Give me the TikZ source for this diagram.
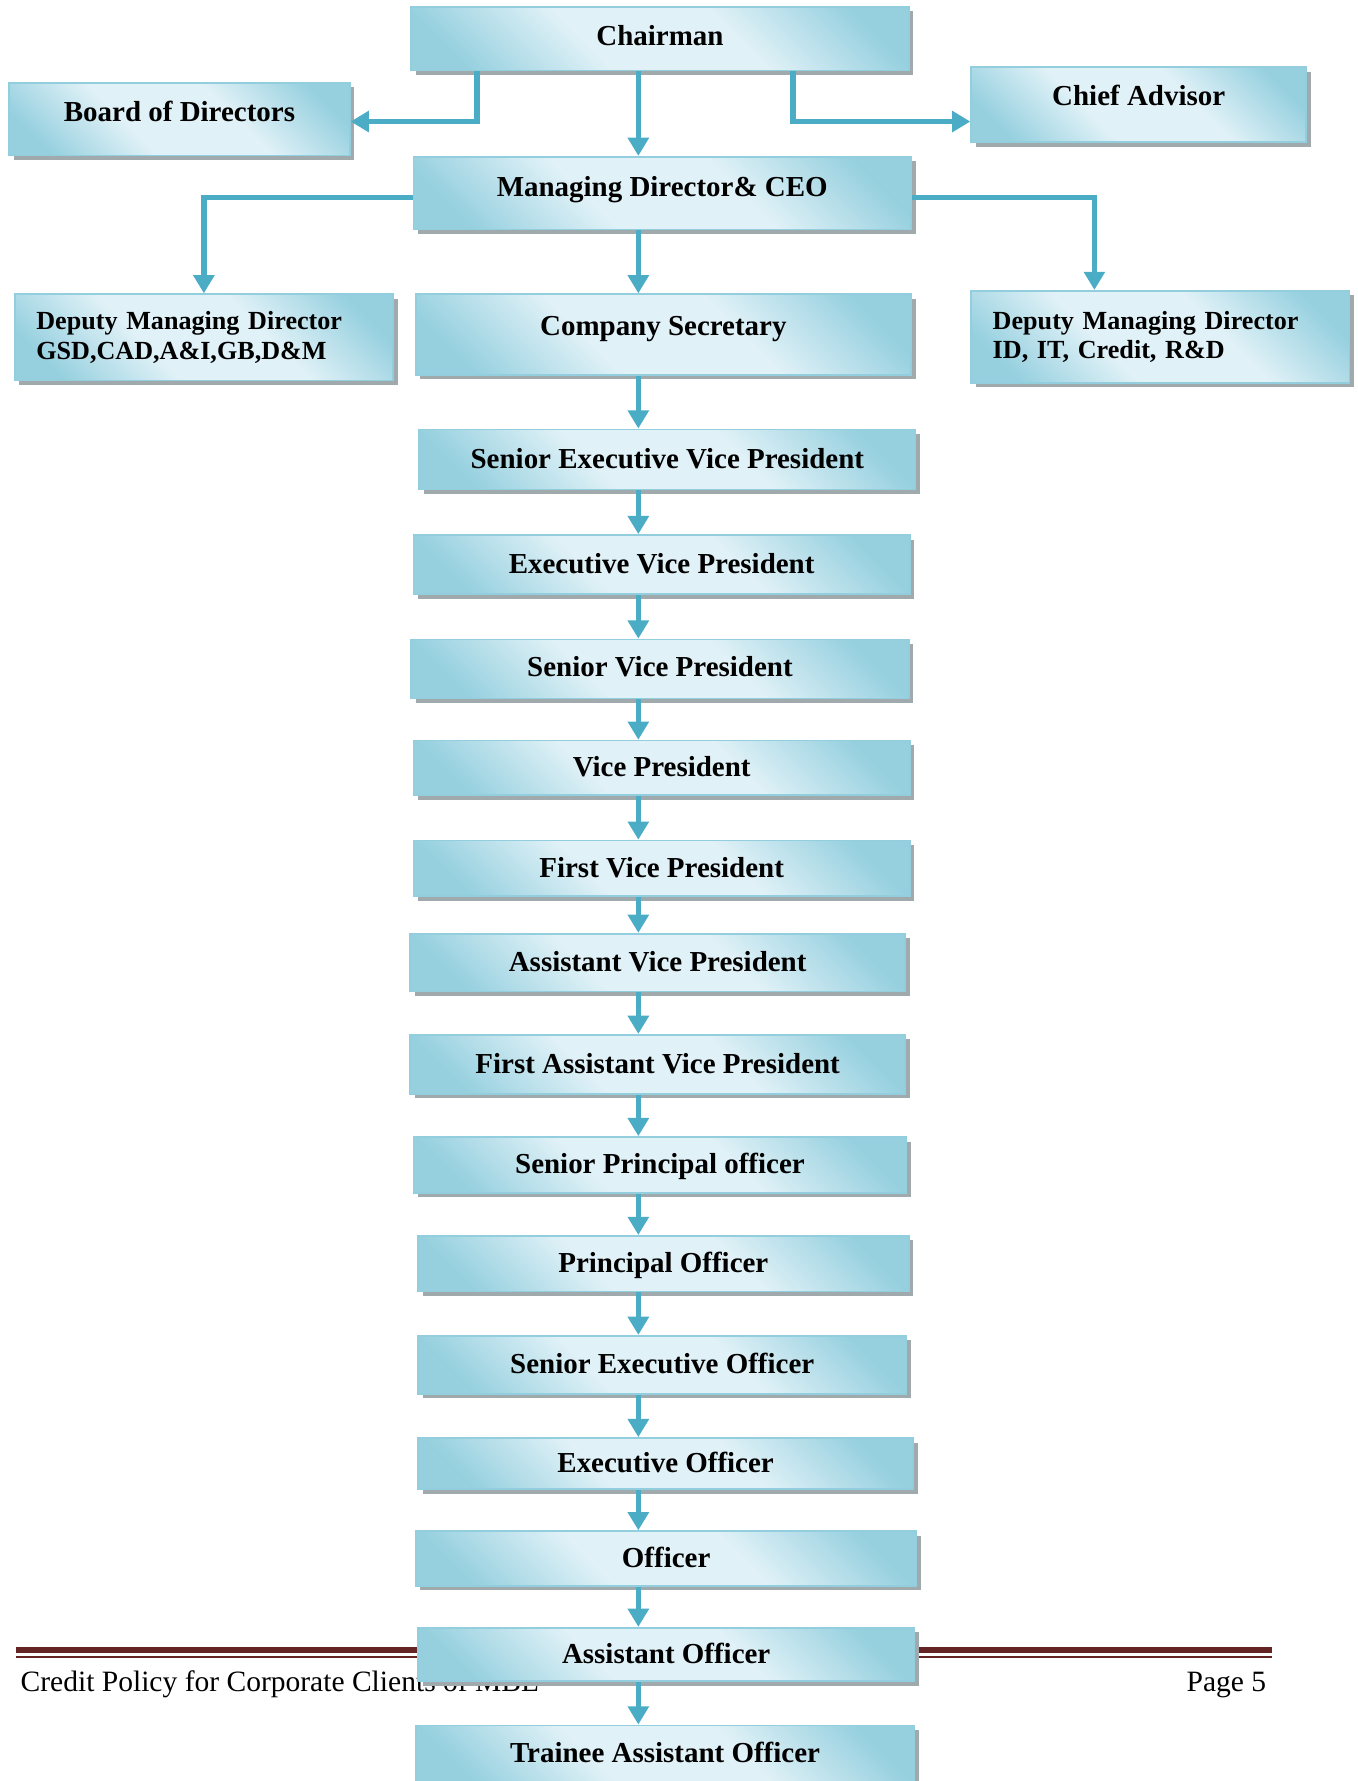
\documentclass[tikz,border=0pt]{standalone}
\usepackage{fontspec}
\setmainfont{Liberation Serif}
\usetikzlibrary{arrows.meta,shadows,calc}
\definecolor{boxdark}{RGB}{150,208,223}
\definecolor{boxlight}{RGB}{224,241,247}
\definecolor{boxline}{RGB}{146,206,222}
\definecolor{conncol}{RGB}{75,172,198}
\definecolor{shadowcol}{RGB}{160,170,172}
\definecolor{footred}{RGB}{99,36,35}
\pgfdeclareverticalshading{orgshade}{100bp}{color(0bp)=(boxdark); color(22bp)=(boxdark); color(40bp)=(boxlight); color(60bp)=(boxlight); color(78bp)=(boxdark); color(100bp)=(boxdark)}
\begin{document}
\begin{tikzpicture}[x=1pt,y=1pt,
  orgbase/.style={draw=boxline, line width=1.5pt,
    shading=orgshade, shading angle=-45,
    drop shadow={shadow xshift=4pt, shadow yshift=-4pt, fill=shadowcol, opacity=1},
    inner sep=0pt},
  orgbox/.style={orgbase, font=\fontsize{25.5}{30}\selectfont\bfseries,
    text height=16pt, text depth=0pt},
  dmdbox/.style={orgbase, font=\fontsize{23}{26}\selectfont\bfseries,
    text width=295pt, align=left, inner xsep=19pt, minimum width=333pt},
  conn/.style={draw=conncol, line width=5pt, -{Triangle[width=18pt,length=16pt]}},
  footline/.style={draw=footred}
]
\useasboundingbox (0,0) rectangle (1195,-1568);
\clip (0,0) rectangle (1195,-1568);
\coordinate (spine) at (562,0);

% footer
\coordinate (fl) at (14,-1452.5);
\coordinate (fr) at (1120,-1452.5);
\draw[footline, line width=5pt] (fl) -- (fr);
\draw[footline, line width=1.8pt] ([yshift=-6pt]fl) -- ([yshift=-6pt]fr);
\node[anchor=base west, font=\fontsize{26}{30}\selectfont, inner sep=0pt] (foottext) at (18,-1489) {Credit Policy for Corporate Clients of MBL};
\node[anchor=base east, font=\fontsize{26}{30}\selectfont, inner sep=0pt] (pagenum) at (1115,-1489) {Page 5};

% top boxes
\node[orgbox, minimum width=438pt, minimum height=56pt, text depth=4pt] (chair) at (581,-34) {Chairman};
\node[orgbox, minimum width=300pt, minimum height=64pt, text depth=12pt] (board) at (158,-105) {Board of Directors};
\node[orgbox, minimum width=295pt, minimum height=66pt, text depth=14pt] (chief) at (1002.5,-92) {Chief Advisor};
\node[orgbox, minimum width=438pt, minimum height=64pt, text depth=10pt] (md) at (583,-170) {Managing Director\& CEO};
\node[dmdbox, minimum height=76pt] (dmdl) at (179.5,-297) {Deputy Managing Director\\GSD,CAD,A\&I,GB,D\&M};
\node[orgbox, minimum width=436pt, minimum height=71pt, text depth=15pt] (cs) at (584,-294.5) {Company Secretary};
\node[dmdbox, minimum height=81pt] (dmdr) at (1021.5,-296.5) {Deputy Managing Director\\ID, IT, Credit, R\&D};

% chain
\node[orgbox, minimum width=437pt, minimum height=53pt] (sevp) at (587.5,-404.5) {Senior Executive Vice President};
\node[orgbox, minimum width=437pt, minimum height=52pt] (evp) at (582.5,-497) {Executive Vice President};
\node[orgbox, minimum width=438pt, minimum height=52pt, text depth=2pt] (svp) at (581,-589) {Senior Vice President};
\node[orgbox, minimum width=437pt, minimum height=48pt] (vp) at (582.5,-676) {Vice President};
\node[orgbox, minimum width=437pt, minimum height=49pt] (fvp) at (582.5,-764.5) {First Vice President};
\node[orgbox, minimum width=436pt, minimum height=51pt] (avp) at (579,-847.5) {Assistant Vice President};
\node[orgbox, minimum width=436pt, minimum height=52pt] (favp) at (579,-937) {First Assistant Vice President};
\node[orgbox, minimum width=434pt, minimum height=49pt] (spo) at (581,-1025.5) {Senior Principal officer};
\node[orgbox, minimum width=432pt, minimum height=49pt] (po) at (584,-1112.5) {Principal Officer};
\node[orgbox, minimum width=430pt, minimum height=51pt] (seo) at (583,-1201.5) {Senior Executive Officer};
\node[orgbox, minimum width=436pt, minimum height=45pt] (eo) at (586,-1288.5) {Executive Officer};
\node[orgbox, minimum width=441pt, minimum height=48pt] (off) at (586.5,-1372) {Officer};
\node[orgbox, minimum width=437pt, minimum height=47pt] (ao) at (586.5,-1456.5) {Assistant Officer};
\node[orgbox, minimum width=439pt, minimum height=50pt] (tao) at (585.5,-1544) {Trainee Assistant Officer};

% connectors
\draw[conn] ([xshift=-161pt]chair.south) |- ([yshift=-2pt]board.east);
\draw[conn] ([xshift=117pt]chair.south) |- ([yshift=-15pt]chief.west);
\draw[conn] (chair.south -| spine) -- (md.north -| spine);
\draw[conn] ([yshift=-4pt]md.west) -| (dmdl.north);
\draw[conn] ([yshift=-4pt]md.east) -| ([xshift=-58pt]dmdr.north);
\draw[conn] (md.south -| spine) -- (cs.north -| spine);
\foreach \a/\b in {cs/sevp, sevp/evp, evp/svp, svp/vp, vp/fvp, fvp/avp, avp/favp, favp/spo, spo/po, po/seo, seo/eo, eo/off, off/ao, ao/tao}
  \draw[conn] (\a.south -| spine) -- (\b.north -| spine);
\end{tikzpicture}
\end{document}
